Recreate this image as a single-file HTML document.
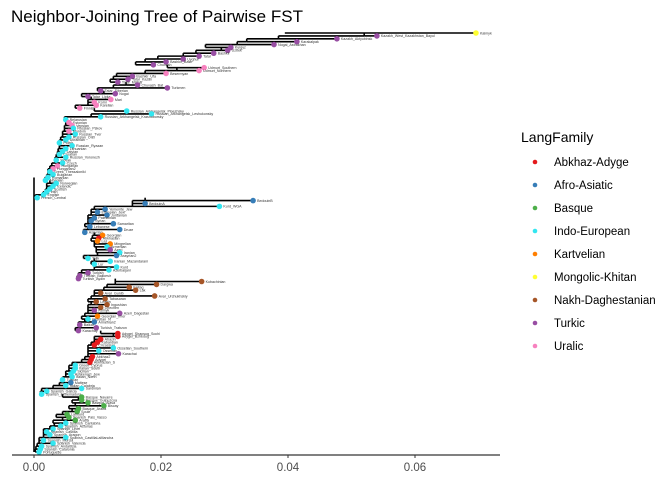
<!DOCTYPE html>
<html><head><meta charset="utf-8"><style>
body{margin:0;background:#fff;}
svg{display:block;font-family:"Liberation Sans",sans-serif;}
</style></head><body>
<svg id="chart" width="672" height="480">
<text x="11" y="22" font-size="17" fill="#000">Neighbor-Joining Tree of Pairwise FST</text>
<g id="tree"></g>
<g id="axis"></g>
<g id="legend">
<text x="521" y="142" font-size="14" fill="#000">LangFamily</text>
</g>
</svg>
<script>
const leafNames=["Kalmyk","Kazakh_West_Kazakhstan_Bayul","Kazakh_Aktyubinsk","Karakalpak","Nogai_Astrakhan","Kyrgyz","Uzbek","Bashkir","Tatar","Uyghur","Bashkir_Bash","Chuvash","Udmurt_Southern","Udmurt_Northern","Besermyan","Bashkir_Ufa","Tatar_Kazan","Tatar_Mishar","Chuvash_Bat","Turkmen","Tatar_Siberian","Nogai","Tatar_Lipka","Mari","Komi","Karelian","Finnish","Russian_Arkhangelsk_Pinezhsky","Russian_Arkhangelsk_Leshukonsky","Russian_Arkhangelsk_Krasnoborsky","Belarusian","Estonian","Vepsian","Russian_Pskov","Mordvin","Russian_Tver","Russian_Orel","Ukrainian","Polish","Russian_Ryazan","Lithuanian","Latvian","Croatian","Russian_Voronezh","Slovak","Czech","Hungarian","Hungarian2","Greek_Thessaloniki","Bulgarian","Romanian","Albanian","Norwegian","Icelandic","Scottish","Irish","English","French_Central",
"BedouinB","BedouinA","Kurd_WGA","Yemenite_Jew","Ethiopian_Jew","Jordanian","Palestinian","Syrian","Samaritan","Lebanese","Druze","Assyrian","Georgian","Abkhasian","Laz","Mingrelian","Armenian","Azeri","Iranian","Assyrian2","Tajik","Iranian_Mazandarani","Lur","Kurd","Azerbaijani","Turkish","Turkish_Balikesir","Turkish_Aydin","Kubachinian","Dargwa","Kaitag","Lak","Avar_Gunib","Avar_Urchukhskiy","Tabasaran","Lezgin","Ingushian","Chechen","Kumyk","Azeri_Dagestan","Georgian_Imer","Ossetian_N","Armenian2","Balkar","Turkish_Trabzon","Karachay","Adygei_Shapsug_Sochi","Adygei_Bzhedug","Abazin","Kabardian","Circassian","Ossetian_Southern","Ossetian","Karachai","Abkhaz2","Adygei","Abkhazian_S","Greek_Cyprus","Italian_South","Sicilian","Ashkenazi_Jew","Italian_North","Tuscan","Maltese","Italian_Calabria","Sardinian","Spanish_Galicia","Spanish_Extremadura","Basque_Navarre","Basque_Guipuzcoa","Basque_Alava","Biscay","Basque_Araba","Soule","Labourd","Spanish_Pais_Vasco","Araba","Spanish_Cantabria","Spanish_Asturias","Spanish_Leon","Spanish_Castilla","Spanish_Aragon","Spanish_CastillaLaMancha","Spanish_Murcia","Spanish_Valencia","Spanish_Andalucia","Spanish_Catalonia","Portuguese"];
const leafFamily="MTTTTTTTTTTTUUUTTTTTTTTUUUUIIIIUUIUIIIIIIIIIIIUUIIIIIIIIII"+"FFIFFFFFFFFFKAKKITIFIIIIITTTNNNNNNNNNNTTKIFTTTAAAAAIITAAAIIIIIIFIIIIBBBBBBBBBIIIIIIIIIII";
const tipDist=[0.0696,0.054,0.0477,0.0414,0.0378,0.031,0.0305,0.0283,0.026,0.0235,0.0208,0.0188,0.0268,0.026,0.0208,0.0155,0.0148,0.0132,0.0163,0.021,0.0105,0.0128,0.0085,0.0121,0.0095,0.0098,0.0072,0.0146,0.0185,0.0105,0.005,0.0055,0.006,0.0062,0.0055,0.0065,0.0055,0.005,0.004,0.006,0.005,0.0045,0.004,0.005,0.0035,0.0045,0.0037,0.003,0.0025,0.003,0.0022,0.0018,0.0035,0.003,0.0025,0.002,0.0015,0.0005,
0.0345,0.0175,0.0292,0.0112,0.01,0.0115,0.0095,0.009,0.0125,0.0088,0.0135,0.008,0.0108,0.0102,0.01,0.012,0.0115,0.012,0.0135,0.013,0.0085,0.012,0.0095,0.013,0.0118,0.0085,0.0072,0.007,0.0264,0.0193,0.015,0.016,0.0105,0.019,0.0112,0.0098,0.0115,0.0105,0.0095,0.0135,0.01,0.0085,0.0095,0.0072,0.0098,0.007,0.0132,0.0132,0.0105,0.01,0.0095,0.0125,0.0102,0.0133,0.0092,0.009,0.0088,0.0065,0.0065,0.0062,0.0058,0.006,0.0045,0.0058,0.005,0.0075,0.002,0.0012,0.0075,0.0075,0.0085,0.011,0.007,0.0068,0.0052,0.0055,0.0065,0.005,0.0042,0.003,0.002,0.0025,0.005,0.0015,0.003,0.0012,0.001,0.0008];
const joinDist=[0.0395,0.052,0.0385,0.0335,0.032,0.027,0.0295,0.0255,0.0235,0.0195,0.0175,0.016,0.021,0.0225,0.0175,0.013,0.0125,0.012,0.0145,0.0125,0.01,0.011,0.0075,0.009,0.0085,0.0085,0.0065,0.0095,0.0145,0.009,0.0048,0.0052,0.005,0.0048,0.0048,0.0045,0.0045,0.0042,0.004,0.004,0.004,0.0038,0.0037,0.0035,0.0033,0.0033,0.0028,0.0025,0.0022,0.0022,0.002,0.0017,0.0025,0.002,0.002,0.0018,0.0014,0.0002,
0.0175,0.0155,0.0155,0.0095,0.009,0.009,0.0085,0.0085,0.0085,0.008,0.0085,0.0078,0.0095,0.0092,0.009,0.0095,0.0095,0.0098,0.0098,0.01,0.0078,0.0095,0.009,0.0095,0.0095,0.0075,0.007,0.0068,0.0128,0.0128,0.0115,0.011,0.0095,0.0095,0.009,0.0085,0.009,0.0085,0.0085,0.0085,0.008,0.0075,0.008,0.007,0.007,0.0065,0.0105,0.0125,0.0095,0.0095,0.009,0.0085,0.0085,0.0085,0.0085,0.008,0.0075,0.006,0.0055,0.0055,0.005,0.005,0.0045,0.0045,0.004,0.003,0.0012,0.001,0.0045,0.007,0.006,0.0065,0.0055,0.006,0.0045,0.0035,0.0045,0.003,0.0032,0.0025,0.0015,0.0015,0.0015,0.0008,0.0008,0.0005,0.0003,0.0002];
const famCodes=["A","F","B","I","K","M","N","T","U"];
const famLabels=["Abkhaz-Adyge","Afro-Asiatic","Basque","Indo-European","Kartvelian","Mongolic-Khitan","Nakh-Daghestanian","Turkic","Uralic"];
const famColors=["#E41A1C","#377EB8","#4DAF4A","#33E6F0","#FF7F00","#FFFF33","#A65628","#984EA3","#F781BF"];
const xTicks=[0,0.02,0.04,0.06];
const xTickLabels=["0.00","0.02","0.04","0.06"];

const NS="http://www.w3.org/2000/svg";
const X0=34,XS=6350,Y0=33,Y1=452;
const xs=v=>X0+v*XS;
const n=leafNames.length;
const ys=i=>Y0+i*(Y1-Y0)/(n-1);
function mk(tag,attrs,parent){const e=document.createElementNS(NS,tag);for(const k in attrs)e.setAttribute(k,attrs[k]);parent.appendChild(e);return e;}
const tree=document.getElementById('tree');
const SW=1.6;
let root=mk('line',{x1:xs(0),x2:xs(0),y1:ys(50),y2:ys(n-1),stroke:'#000','stroke-width':SW},tree);


for(let i=0;i<n;i++){
  const y=ys(i);
  const h=mk('line',{x1:xs(joinDist[i]),x2:xs(tipDist[i]),y1:y,y2:y,stroke:'#000','stroke-width':SW},tree);
  
  
  if(i>0){
    const yp=ys(i-1);
    const v=mk('line',{x1:xs(joinDist[i]),x2:xs(joinDist[i]),y1:yp,y2:y,stroke:'#000','stroke-width':SW},tree);
    
    
    if(joinDist[i]<joinDist[i-1]){
      const c=mk('line',{x1:xs(joinDist[i]),x2:xs(joinDist[i-1]),y1:yp,y2:yp,stroke:'#000','stroke-width':SW},tree);
      
      
    }
  }
}
for(let i=0;i<n;i++){
  const y=ys(i),fi=famCodes.indexOf(leafFamily[i]);
  const d=mk('circle',{cx:xs(tipDist[i]),cy:y,r:2.8,fill:famColors[fi]},tree);
  
  
  const t=mk('text',{x:xs(tipDist[i])+4,y:y+1.3,'font-size':3.6,fill:'#333'},tree);
  t.textContent=leafNames[i];
  
  
}
const axis=document.getElementById('axis');
const al=mk('line',{x1:12,x2:500,y1:455,y2:455,stroke:'#000','stroke-width':1},axis);


xTicks.forEach((t,i)=>{
  const tk=mk('line',{x1:xs(t),x2:xs(t),y1:455,y2:458,stroke:'#333'},axis);
  
  
  const tl=mk('text',{x:xs(t),y:471,'font-size':11.5,fill:'#4d4d4d','text-anchor':'middle'},axis);
  tl.textContent=xTickLabels[i];
  
  
});
const leg=document.getElementById('legend');
famLabels.forEach((l,i)=>{
  const y=162+i*23;
  const c=mk('circle',{cx:535,cy:y,r:2.3,fill:famColors[i]},leg);
  
  
  const t=mk('text',{x:554,y:y+4,'font-size':11.5,fill:'#000'},leg);
  t.textContent=l;
  
  
});
</script>
</body></html>
